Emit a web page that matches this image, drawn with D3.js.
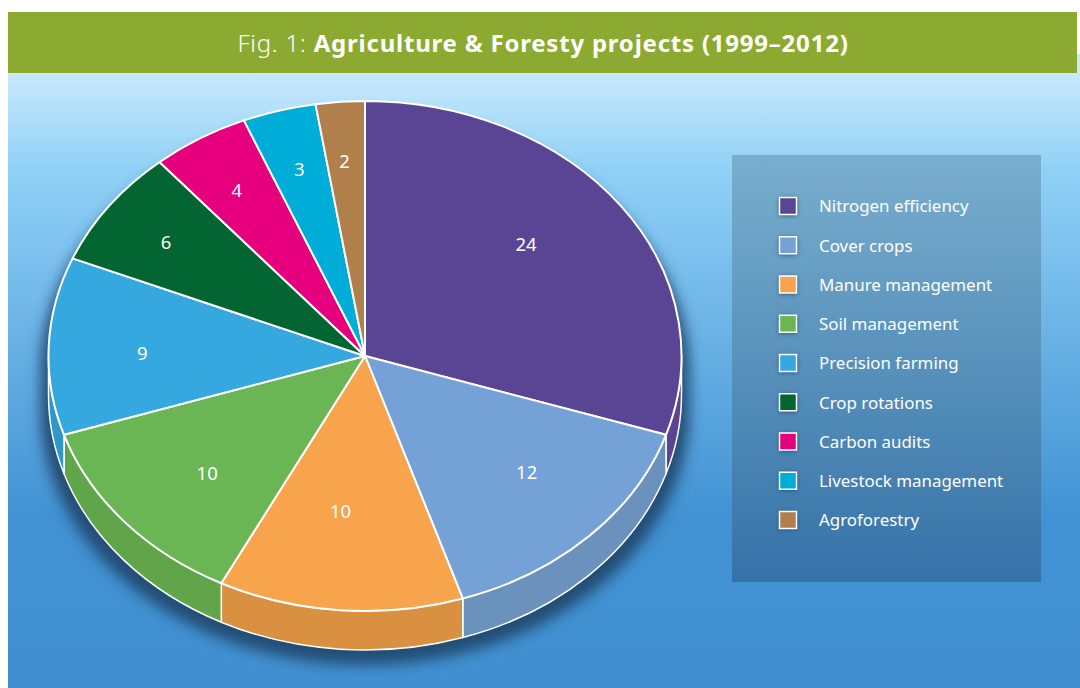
<!DOCTYPE html>
<html>
<head>
<meta charset="utf-8">
<script src="https://cdnjs.cloudflare.com/ajax/libs/d3/7.8.5/d3.min.js"></script>
<style>
  html, body { margin: 0; padding: 0; background: #fff; }
  svg { display: block; }
  text { font-family: "Noto Sans", sans-serif; fill: #fff; }
</style>
</head>
<body>
<svg id="chart" width="1080" height="688"></svg>
<script>
const categories = ['Nitrogen efficiency', 'Cover crops', 'Manure management', 'Soil management',
  'Precision farming', 'Crop rotations', 'Carbon audits', 'Livestock management', 'Agroforestry'];
const projects = [24, 12, 10, 10, 9, 6, 4, 3, 2];
const topColors = ['#5a4595', '#74a1d6', '#f8a44c', '#6ab654', '#35a8e0', '#036532', '#e6007e', '#00acd8', '#b07f4b'];
const sideColors = ['#5a4595', '#6b91bd', '#d99141', '#60a54a', '#2f97ca', '#035a2d', '#c9006e', '#0098bf', '#9b7042'];

const W = 1080, H = 688;
const cx = 365, cy = 356, rx = 316.5, ry = 255, depth = 39;

// labels were placed by hand in the original, so nudge them off the centroid
const labelNudge = [[-8, -13], [14, -2], [-8, -12], [1, 8], [-14, 4], [-30, -15], [-19, -22], [-9, -24], [-4, -27]];

const svg = d3.select('#chart');
const defs = svg.append('defs');

const bg = defs.append('linearGradient').attr('id', 'bg').attr('gradientUnits', 'userSpaceOnUse')
  .attr('x1', 0).attr('x2', 0).attr('y1', 73).attr('y2', H);
bg.append('stop').attr('offset', 0).attr('stop-color', '#c9e9fc');
bg.append('stop').attr('offset', 0.16).attr('stop-color', '#8fd0f6');
bg.append('stop').attr('offset', 0.72).attr('stop-color', '#4292d3');
bg.append('stop').attr('offset', 1).attr('stop-color', '#418fd0');

const panel = defs.append('linearGradient').attr('id', 'panel').attr('x1', 0).attr('x2', 0).attr('y1', 0).attr('y2', 1);
panel.append('stop').attr('offset', 0).attr('stop-color', '#79aecd');
panel.append('stop').attr('offset', 1).attr('stop-color', '#3572a8');

defs.append('filter').attr('id', 'blur').attr('x', '-10%').attr('y', '-10%').attr('width', '120%').attr('height', '120%')
  .append('feGaussianBlur').attr('stdDeviation', 7);
defs.append('filter').attr('id', 'swatchBlur').attr('x', '-50%').attr('y', '-50%').attr('width', '200%').attr('height', '200%')
  .append('feGaussianBlur').attr('stdDeviation', 2);

svg.append('rect').attr('x', 8).attr('y', 54).attr('width', W - 8).attr('height', H - 54).attr('fill', 'url(#bg)');
svg.append('rect').attr('x', 8).attr('y', 12).attr('width', 1069).attr('height', 61).attr('fill', '#8caa31');

const title = svg.append('text').attr('x', 543).attr('y', 52).attr('text-anchor', 'middle')
  .attr('font-size', 24).attr('letter-spacing', 0.78);
title.append('tspan').attr('font-weight', 300).text('Fig. 1: ');
title.append('tspan').attr('font-weight', 700).text('Agriculture & Foresty projects (1999–2012)');

// pie angles are laid on a circle and squashed to an ellipse
const arcs = d3.pie().sort(null).value(d => d)(projects);
const px = a => cx + rx * Math.sin(a);
const py = a => cy - ry * Math.cos(a);
const arcGen = d3.arc().innerRadius(0).outerRadius(rx);

// shadow below the body
const srx = rx + 8, sdy = 15;
svg.append('path')
  .attr('d', `M${cx - srx},${cy + sdy} A${srx},${ry} 0 0 1 ${cx + srx},${cy + sdy} L${cx + srx},${cy + sdy + depth} A${srx},${ry} 0 0 1 ${cx - srx},${cy + sdy + depth} Z`)
  .attr('fill', '#214e74')
  .attr('filter', 'url(#blur)');

// side wall: only the front half of the ellipse shows
const front = arcs.map(d => ({
  a0: Math.max(d.startAngle, Math.PI / 2),
  a1: Math.min(d.endAngle, Math.PI * 1.5)
}));
svg.append('g').selectAll('path').data(front).join('path')
  .attr('display', d => d.a1 > d.a0 ? null : 'none')
  .attr('d', d => `M${px(d.a0)},${py(d.a0)} A${rx},${ry} 0 0 1 ${px(d.a1)},${py(d.a1)}`
    + ` L${px(d.a1)},${py(d.a1) + depth} A${rx},${ry} 0 0 0 ${px(d.a0)},${py(d.a0) + depth} Z`)
  .attr('fill', (d, i) => sideColors[i])
  .attr('stroke', '#fff').attr('stroke-width', 1.5).attr('stroke-linejoin', 'round');

// top face
svg.append('g').attr('transform', `translate(${cx},${cy}) scale(1,${ry / rx})`)
  .selectAll('path').data(arcs).join('path')
  .attr('d', arcGen)
  .attr('fill', (d, i) => topColors[i])
  .attr('stroke', '#fff').attr('stroke-width', 2).attr('vector-effect', 'non-scaling-stroke')
  .attr('stroke-linejoin', 'round');

// value labels
const midAngle = d => (d.startAngle + d.endAngle) / 2;
svg.append('g').selectAll('text').data(arcs).join('text')
  .attr('x', (d, i) => cx + 0.66 * rx * Math.sin(midAngle(d)) + labelNudge[i][0])
  .attr('y', (d, i) => cy - 0.66 * ry * Math.cos(midAngle(d)) + labelNudge[i][1])
  .attr('dy', '0.35em').attr('text-anchor', 'middle').attr('font-size', 18.5)
  .text(d => d.value);

// legend
svg.append('rect').attr('x', 732).attr('y', 155).attr('width', 309).attr('height', 427).attr('fill', 'url(#panel)');
const legendY = d3.scalePoint().domain(categories).range([206, 520]);
const legend = svg.append('g').selectAll('g').data(categories).join('g')
  .attr('transform', d => `translate(0,${legendY(d)})`);
legend.append('rect').attr('x', 779).attr('y', -8).attr('width', 18).attr('height', 18)
  .attr('fill', '#1c4566').attr('opacity', 0.7).attr('filter', 'url(#swatchBlur)');
legend.append('rect').attr('x', 779.5).attr('y', -8.5).attr('width', 17).attr('height', 17)
  .attr('fill', (d, i) => topColors[i]).attr('stroke', '#fff').attr('stroke-width', 1.5);
legend.append('text').attr('x', 819).attr('y', 0.5).attr('dy', '0.35em').attr('font-size', 16.9).text(d => d);
</script>
</body>
</html>
